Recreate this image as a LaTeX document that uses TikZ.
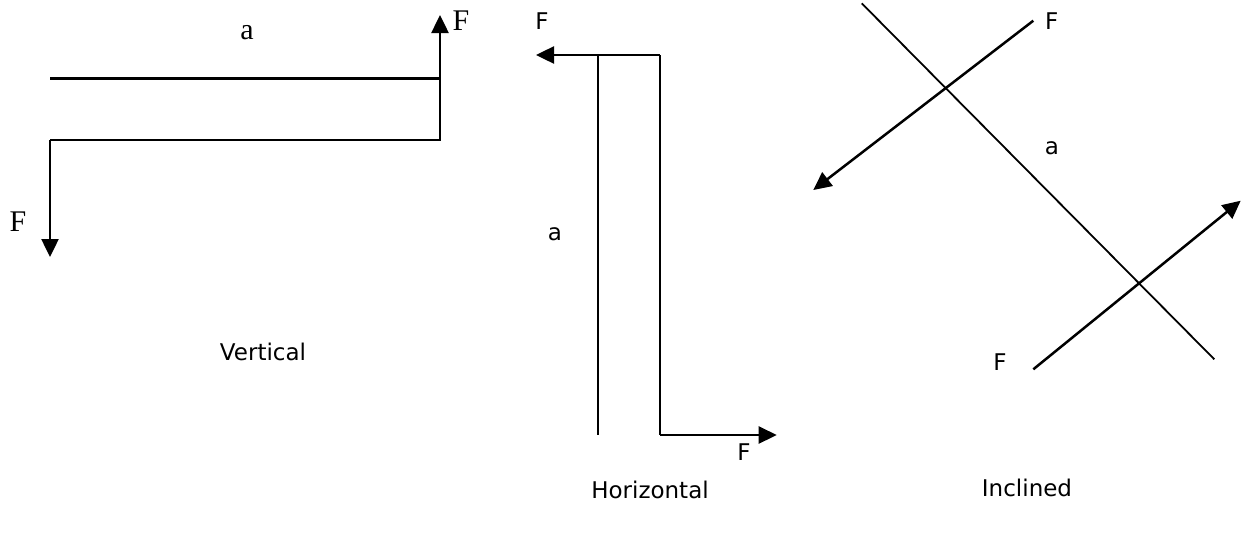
\documentclass[tikz,border=0pt]{standalone}
\usepackage{fontspec}
\setmainfont{Liberation Serif}
\newfontfamily\sansf{DejaVu Sans}
\usetikzlibrary{arrows.meta}
\begin{document}
\begin{tikzpicture}[x=1pt,y=-1pt,
  thinline/.style={line width=1.8pt},
  forceline/.style={line width=2.5pt,-{Triangle[length=18pt,width=17pt]}},
  plainforce/.style={line width=2.5pt},
  serlabel/.style={inner sep=0pt,font=\fontsize{30}{34}\selectfont},
  sanlabel/.style={inner sep=0pt,font=\sansf\fontsize{23}{27}\selectfont},
  caption/.style={inner sep=0pt,font=\sansf\fontsize{23}{27}\selectfont}]
\useasboundingbox (0,0) rectangle (1249,536);
% ---------- Vertical ----------
\coordinate (v1) at (50,78.7);
\coordinate (v2) at (440,78.7);
\coordinate (v3) at (440,15);
\coordinate (v4) at (440,140);
\coordinate (v5) at (50,140);
\coordinate (v6) at (50,257);
\draw[plainforce] (v1) -- (v2);
\draw[forceline,line join=miter] (v5) -- (v4) -- (v3);
\draw[forceline] (v5) -- (v6);
\node[serlabel] (vF1) at (461,21) {F};
\node[serlabel] (vF2) at (18,222) {F};
\node[serlabel] (va) at (247,33) {a};
\node[caption] (vcap) at (263,352) {Vertical};
% ---------- Horizontal ----------
\coordinate (h1) at (536,55);
\coordinate (h2) at (598.3,55);
\coordinate (h3) at (660,55);
\coordinate (h4) at (598.3,435);
\coordinate (h5) at (660,435);
\coordinate (h6) at (776.7,435);
\draw[thinline] (h2) -- (h4);
\draw[thinline] (h3) -- (h5);
\draw[forceline] (h3) -- (h1);
\draw[forceline] (h5) -- (h6);
\node[sanlabel] (hF1) at (542,21) {F};
\node[sanlabel] (hF2) at (744,452) {F};
\node[sanlabel] (ha) at (555,234) {a};
\node[caption] (hcap) at (650,490) {Horizontal};
% ---------- Inclined ----------
\coordinate (i1) at (861.7,3.3);
\coordinate (i2) at (1214.3,359.3);
\coordinate (i3) at (1033.3,20.7);
\coordinate (i4) at (813.3,190);
\coordinate (i5) at (1033.3,369.3);
\coordinate (i6) at (1240.7,200.7);
\draw[thinline] (i1) -- (i2);
\draw[forceline] (i3) -- (i4);
\draw[forceline] (i5) -- (i6);
\node[sanlabel] (iF1) at (1051.7,21) {F};
\node[sanlabel] (iF2) at (1000,362) {F};
\node[sanlabel] (ia) at (1052,148) {a};
\node[caption] (icap) at (1027,488) {Inclined};
\end{tikzpicture}
\end{document}
